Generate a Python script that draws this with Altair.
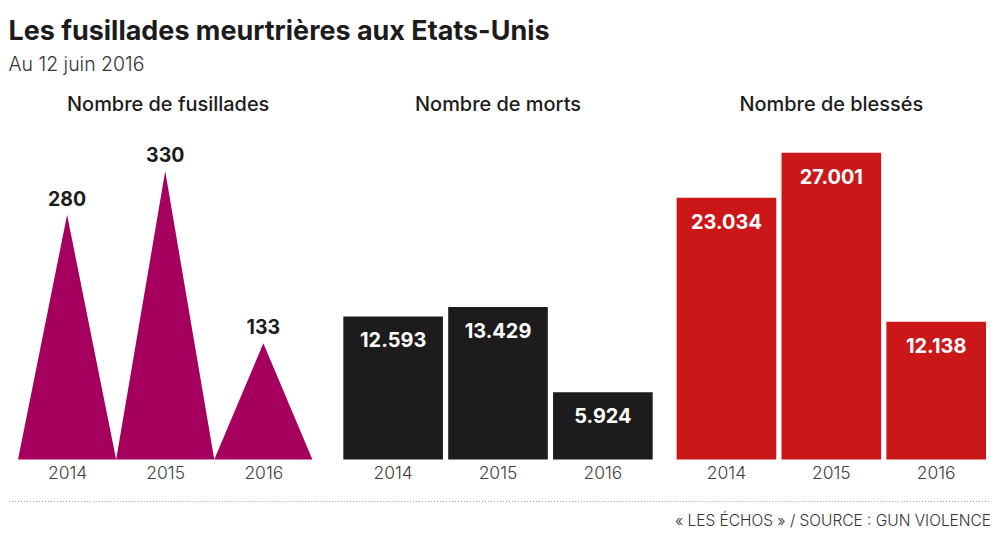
import altair as alt
import pandas as pd

years = ["2014", "2015", "2016"]
fusillades = [280, 330, 133]
morts = [12593, 13429, 5924]
blesses = [23034, 27001, 12138]
panel_titles = ["Nombre de fusillades", "Nombre de morts", "Nombre de blessés"]
title = "Les fusillades meurtrières aux Etats-Unis"
subtitle = "Au 12 juin 2016"
source = "« LES ÉCHOS » / SOURCE : GUN VIOLENCE"

MAGENTA = "#a6005e"
BLACK = "#1d1b1b"
RED = "#cc1719"
FONT = "Inter"
H = 320


def fmt(v):
    return f"{v:,}".replace(",", ".")


# Panel 1: triangles as one area over the category index
pts = []
o = 0
for i, v in enumerate(fusillades):
    for dx, yy in [(-0.5, 0), (0, v), (0.5, 0)]:
        pts.append({"x": i + dx, "y": yy, "o": o})
        o += 1
area_df = pd.DataFrame(pts)
lab1 = pd.DataFrame({"x": list(range(len(years))), "y": fusillades,
                     "label": [fmt(v) for v in fusillades]})

xaxis_common = dict(title=None, domain=False, ticks=False, grid=False,
                    labelFontSize=17.5, labelColor="#404040", labelFont=FONT,
                    labelFontWeight=300, labelPadding=14, labelBaseline="middle")

x1 = alt.X("x:Q", scale=alt.Scale(domain=[-0.592, 2.571], nice=False, zero=False),
           axis=alt.Axis(values=[0, 1, 2],
                         labelExpr="['2014','2015','2016'][datum.value]",
                         **xaxis_common))
y1 = alt.Y("y:Q", scale=alt.Scale(domain=[0, 365.3], nice=False), axis=None)


def ptitle(t, dx=0):
    return alt.TitleParams(t, fontSize=20, font=FONT, fontWeight=500, color=BLACK,
                           offset=9, baseline="alphabetic", dx=dx)


p1_area = alt.Chart(area_df).mark_area(color=MAGENTA).encode(x=x1, y=y1, order="o:Q")
p1_text = alt.Chart(lab1).mark_text(baseline="bottom", dy=-5, fontSize=19.5,
                                    fontWeight="bold", font=FONT, color=BLACK).encode(
    x=alt.X("x:Q"), y=alt.Y("y:Q"), text="label:N")
p1 = alt.layer(p1_area, p1_text).properties(width=311, height=H,
                                             title=ptitle(panel_titles[0], dx=4))


def bar_panel(values, color, t):
    df = pd.DataFrame({"year": years, "v": values, "label": [fmt(v) for v in values]})
    x = alt.X("year:N", sort=years,
              scale=alt.Scale(paddingInner=0.05, paddingOuter=0),
              axis=alt.Axis(labelAngle=0, **xaxis_common))
    y = alt.Y("v:Q", scale=alt.Scale(domain=[0, 28100], nice=False), axis=None)
    bars = alt.Chart(df).mark_bar(color=color).encode(x=x, y=y)
    txt = alt.Chart(df).mark_text(baseline="middle", dy=25, fontSize=20, fontWeight="bold",
                                  font=FONT, color="white").encode(x=x, y=y, text="label:N")
    return alt.layer(bars, txt).properties(width=310, height=H, title=ptitle(t))


p2 = bar_panel(morts, BLACK, panel_titles[1])
p3 = bar_panel(blesses, RED, panel_titles[2])

panels = alt.hconcat(p1, p2, p3, spacing=24)

foot_df = pd.DataFrame({"t": [source]})
rule = alt.Chart(foot_df).mark_rule(color="#9a9a9a", strokeDash=[1, 2], strokeWidth=1).encode(
    x=alt.value(0), x2=alt.value(984), y=alt.value(0))
ftxt = alt.Chart(foot_df).mark_text(align="right", baseline="middle", fontSize=15.5,
                                    font=FONT, fontWeight=300, color="#333333").encode(
    x=alt.value(984), y=alt.value(20), text="t:N")
footer = alt.layer(rule, ftxt).properties(width=984, height=28)

chart = alt.vconcat(panels, footer, spacing=18).properties(
    title=alt.TitleParams(title, subtitle=subtitle, anchor="start", fontSize=27, font=FONT,
                          fontWeight="bold", color=BLACK, subtitleFont=FONT,
                          subtitleFontSize=19.5, subtitleFontWeight=300,
                          subtitleColor="#333333", offset=20, subtitlePadding=10),
    padding={"top": 9, "left": 0, "right": 0, "bottom": 0},
    background="white",
).configure_view(strokeOpacity=0)

chart.save("out.html", embed_options={"renderer": "svg", "actions": False})
